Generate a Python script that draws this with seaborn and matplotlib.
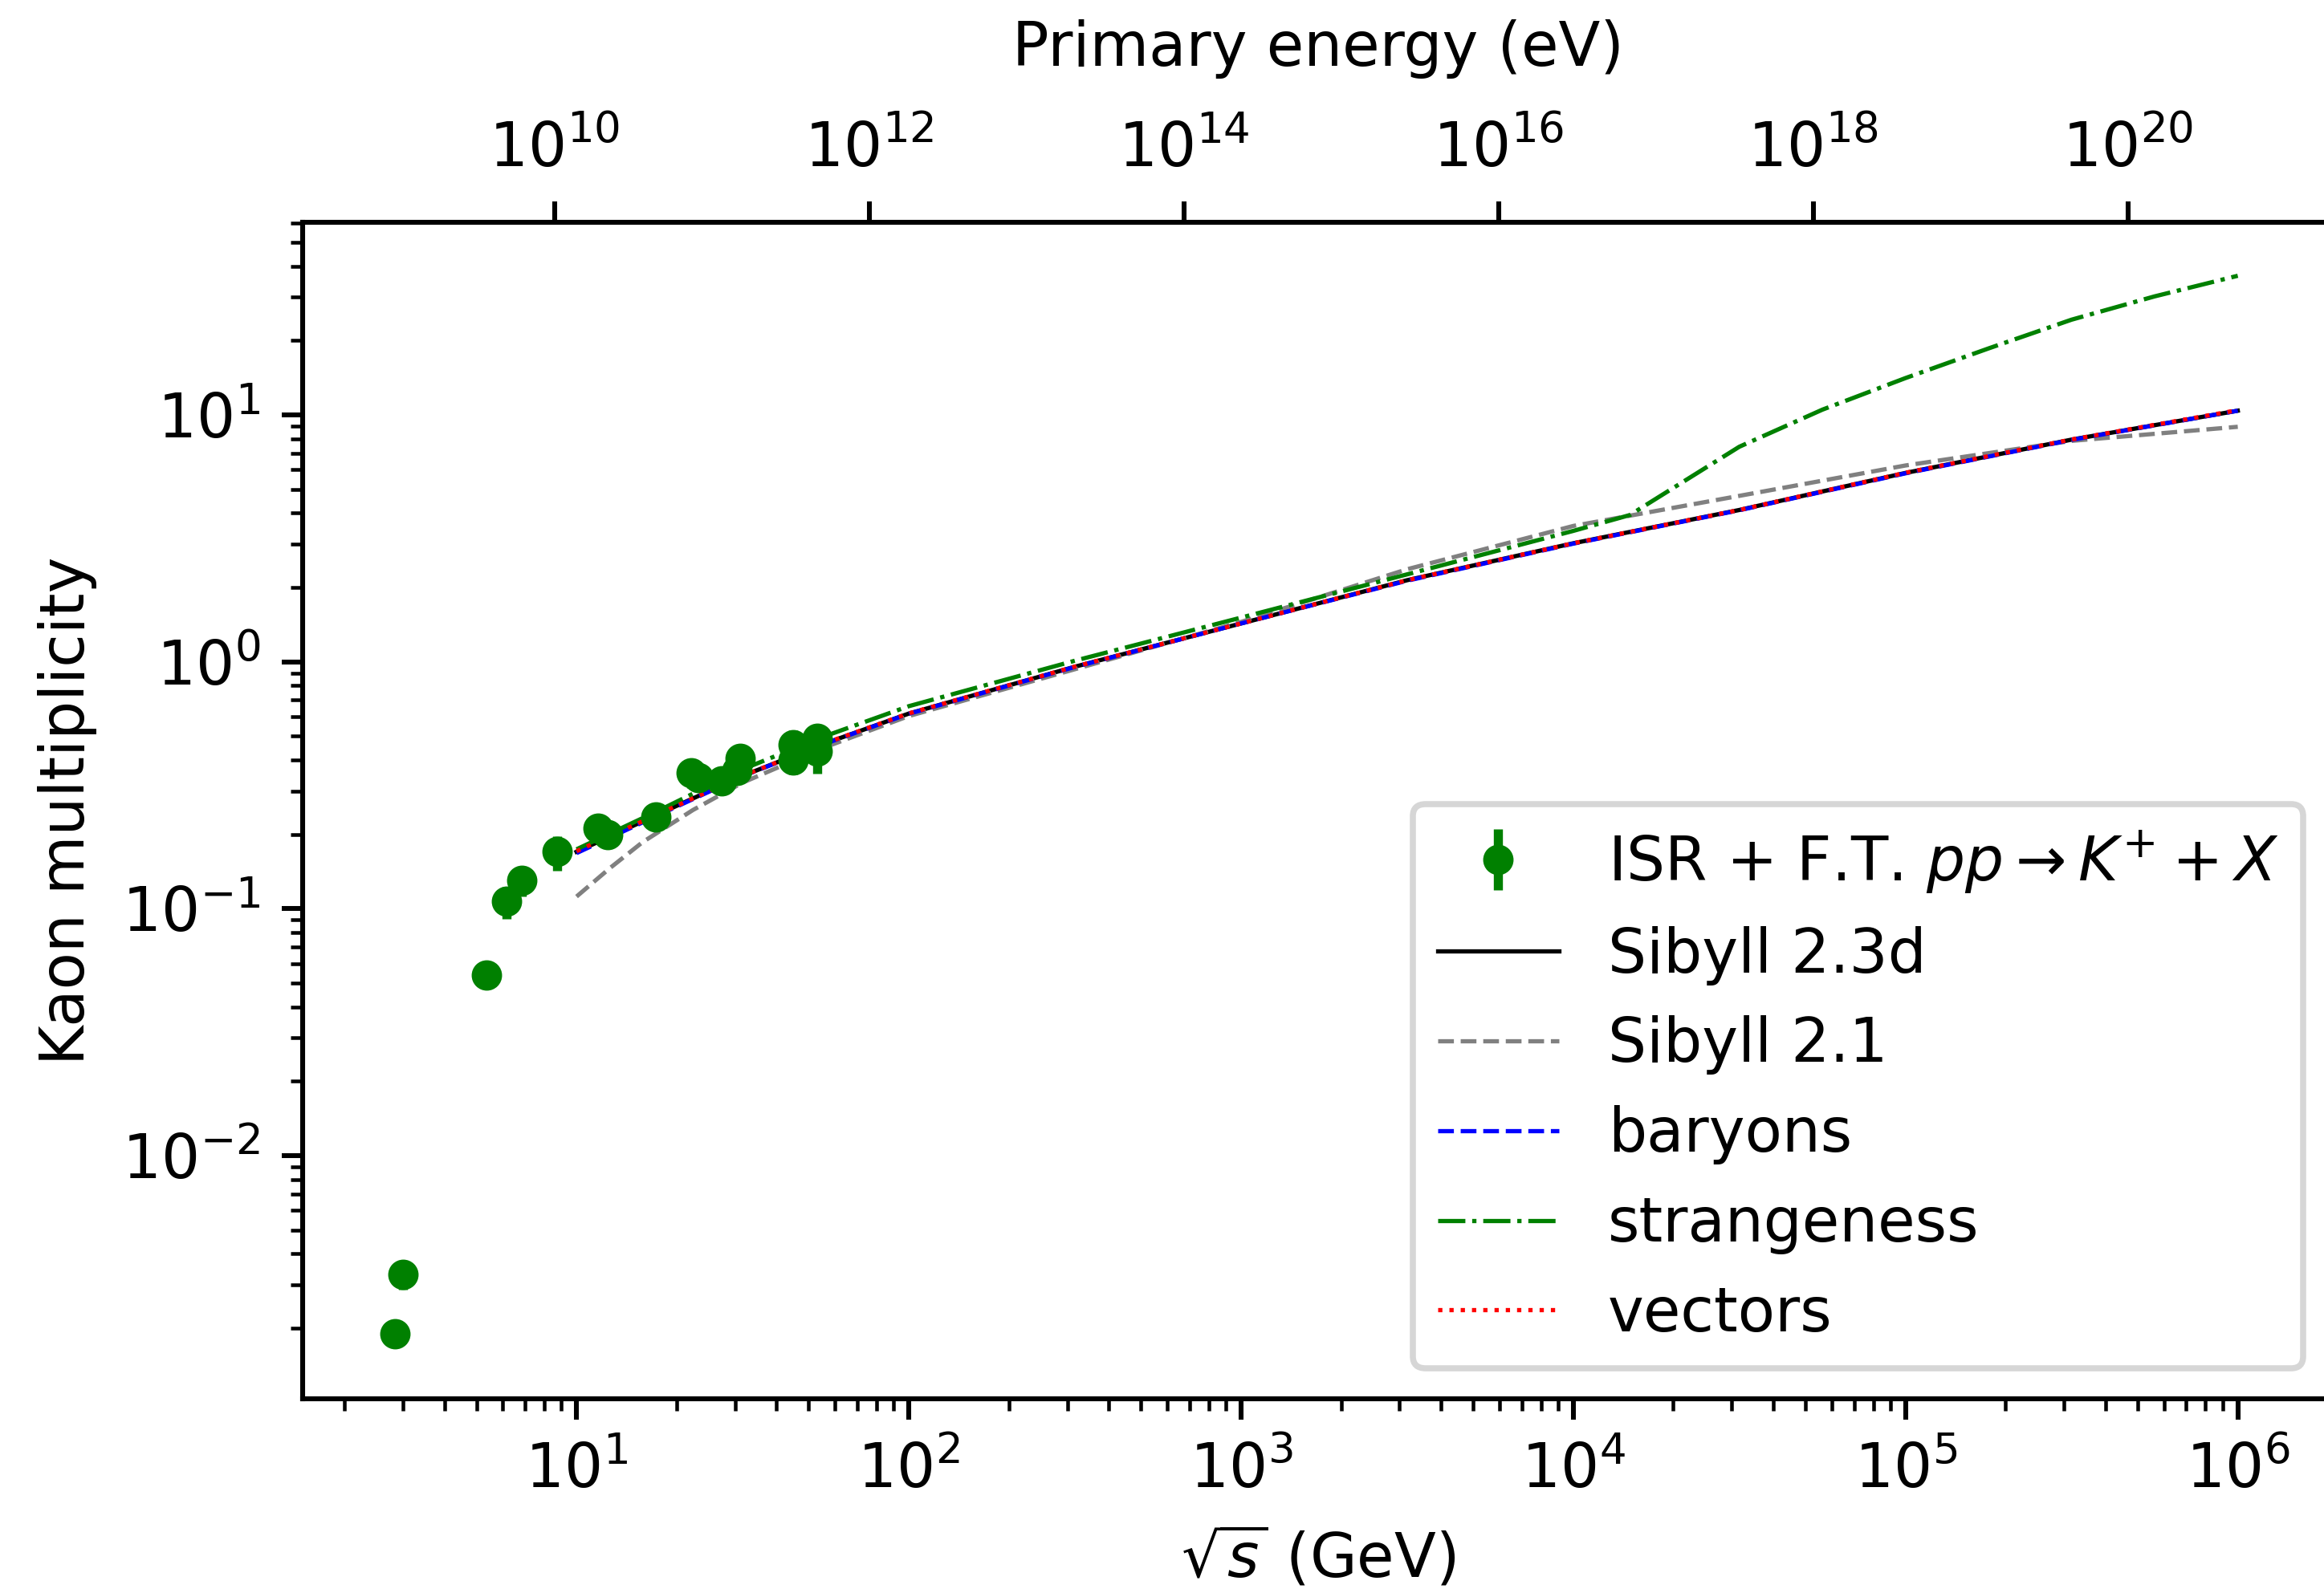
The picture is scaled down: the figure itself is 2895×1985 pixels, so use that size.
import numpy as np
import pandas as pd
import matplotlib
matplotlib.use("Agg")
import matplotlib.pyplot as plt
import matplotlib.ticker as ticker
import seaborn as sns

#------------DATA----------

# ISR + fixed target measurements
sqrt_s_data = [2.835, 3.0, 5.36, 6.16, 6.84, 8.73, 11.6, 12.4, 17.3, 22.1, 23.3, 27.4, 30.4, 31.0, 44.9, 44.9, 53.1, 53.1]
mult_data = [1.90e-3, 3.30e-3, 0.054, 0.107, 0.130, 0.170, 0.212, 0.200, 0.235, 0.354, 0.339, 0.330, 0.363, 0.406, 0.460, 0.400, 0.490, 0.433]
mult_err = [1.5e-4, 4.3e-4, 0.004, 0.016, 0.018, 0.027, 0.026, 0.015, 0.015, 0.046, 0.030, 0.020, 0.030, 0.049, 0.067, 0.050, 0.058, 0.080]

# model curves
sqrt_s_grid = [10, 17.8, 31.6, 56.2, 100, 316, 1000, 3160, 1e4, 3.16e4, 1e5, 3.16e5, 1e6]
sib23d = [0.170, 0.243, 0.345, 0.468, 0.617, 0.955, 1.43, 2.14, 3.02, 4.12, 5.82, 7.94, 10.4]
baryons = [0.168, 0.241, 0.344, 0.467, 0.616, 0.953, 1.43, 2.13, 3.01, 4.11, 5.80, 7.92, 10.4]
vectors = [0.171, 0.243, 0.345, 0.469, 0.618, 0.956, 1.43, 2.14, 3.02, 4.12, 5.83, 7.95, 10.45]

sqrt_s_21 = [10, 12.6, 15.8, 22.4, 31.6, 56.2, 100, 316, 1000, 3160, 1e4, 3.16e4, 1e5, 3.16e5, 1e6]
sib21 = [0.112, 0.146, 0.186, 0.251, 0.324, 0.452, 0.603, 0.933, 1.45, 2.37, 3.55, 4.70, 6.24, 7.85, 8.95]

sqrt_s_str = [10, 17.8, 31.6, 56.2, 100, 316, 1000, 3160, 1e4, 1.48e4, 3.16e4, 5.62e4, 1e5, 1.78e5, 3.16e5, 5.62e5, 1e6]
strangeness = [0.174, 0.251, 0.367, 0.501, 0.661, 1.01, 1.51, 2.26, 3.39, 3.93, 7.43, 10.5, 14.1, 18.6, 24.3, 30.2, 36.6]

top_ticks = [1e10, 1e12, 1e14, 1e16, 1e18, 1e20]

data_label = r"ISR + F.T. $pp \rightarrow K^{+} + X$"

#------------PLOT----------

dpi = 545
fig = plt.figure(figsize=(2895 / dpi, 1985 / dpi), dpi=dpi)
ax = fig.add_axes([0.1302, 0.1219, 0.8738, 0.7385])
ax.set_xscale("log")
ax.set_yscale("log")

ax.errorbar(sqrt_s_data, mult_data, yerr=mult_err, fmt="o", color="g",
            ms=4, label=data_label)

lw = 0.7
sns.lineplot(x=sqrt_s_grid, y=sib23d, ax=ax, color="k", linestyle="-", lw=lw, label="Sibyll 2.3d")
sns.lineplot(x=sqrt_s_21, y=sib21, ax=ax, color="gray", linestyle="--", lw=lw, label="Sibyll 2.1")
sns.lineplot(x=sqrt_s_grid, y=baryons, ax=ax, color="b", linestyle="--", lw=lw, label="baryons")
sns.lineplot(x=sqrt_s_str, y=strangeness, ax=ax, color="g", linestyle="-.", lw=lw, label="strangeness")
sns.lineplot(x=sqrt_s_grid, y=vectors, ax=ax, color="r", linestyle=":", lw=lw, label="vectors")

ax.set_xlim(10**0.1754, 10**6.2875)
ax.set_ylim(10**-2.985, 10**1.7797)
ax.set_xlabel(r"$\sqrt{s}$ (GeV)")
ax.set_ylabel("Kaon multiplicity")

handles, labels = ax.get_legend_handles_labels()
i = labels.index(data_label)
order = [i] + [k for k in range(len(labels)) if k != i]
ax.legend([handles[k] for k in order], [labels[k] for k in order], loc="lower right")

#----------top axis: primary energy---------
ax2 = ax.twiny()
ax2.set_xscale("log")
ax2.set_xlim(10**8.400, 10**21.304)
ax2.set_xticks(top_ticks)
ax2.xaxis.set_minor_locator(ticker.NullLocator())
ax2.set_xlabel("Primary energy (eV)", labelpad=9)

plt.savefig("out.png", dpi=dpi)
plt.close()
